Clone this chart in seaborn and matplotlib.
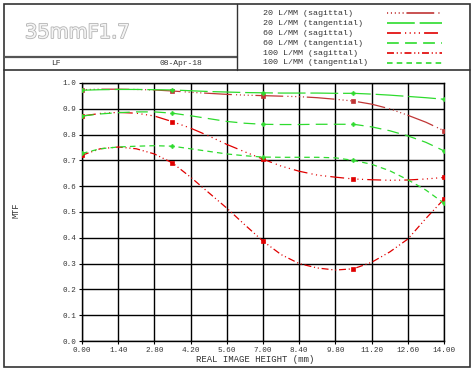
import matplotlib
matplotlib.use("Agg")
import matplotlib.pyplot as plt
import matplotlib.patheffects as pe
from matplotlib.lines import Line2D
from matplotlib.patches import Rectangle
import numpy as np
import pandas as pd
import seaborn as sns

# ---------------- data ----------------
image_height = [0.0, 0.7, 1.4, 2.1, 2.8, 3.5, 4.2, 4.9, 5.6, 6.3, 7.0,
                7.7, 8.4, 9.1, 9.8, 10.5, 11.2, 11.9, 12.6, 13.3, 14.0]

mtf_20_sag = [0.974, 0.976, 0.976, 0.975, 0.973, 0.969, 0.964, 0.960, 0.956, 0.953, 0.951,
              0.949, 0.947, 0.943, 0.937, 0.930, 0.918, 0.900, 0.875, 0.848, 0.815]
mtf_20_tan = [0.972, 0.974, 0.975, 0.975, 0.974, 0.973, 0.970, 0.967, 0.965, 0.963, 0.962,
              0.961, 0.961, 0.961, 0.960, 0.960, 0.957, 0.953, 0.948, 0.943, 0.937]
mtf_60_sag = [0.872, 0.882, 0.886, 0.883, 0.872, 0.850, 0.825, 0.795, 0.762, 0.733, 0.705,
              0.678, 0.658, 0.643, 0.635, 0.628, 0.625, 0.623, 0.624, 0.628, 0.634]
mtf_60_tan = [0.872, 0.880, 0.885, 0.888, 0.888, 0.883, 0.873, 0.862, 0.851, 0.844, 0.840,
              0.839, 0.839, 0.840, 0.840, 0.840, 0.830, 0.815, 0.795, 0.770, 0.737]
mtf_100_sag = [0.720, 0.745, 0.752, 0.745, 0.725, 0.690, 0.635, 0.575, 0.515, 0.450, 0.387,
               0.335, 0.300, 0.283, 0.275, 0.280, 0.305, 0.345, 0.395, 0.475, 0.550]
mtf_100_tan = [0.727, 0.745, 0.752, 0.755, 0.757, 0.755, 0.745, 0.735, 0.725, 0.718, 0.713,
               0.712, 0.712, 0.712, 0.710, 0.700, 0.685, 0.660, 0.625, 0.585, 0.534]

series_labels = ["20 L/MM (sagittal)", "20 L/MM (tangential)", "60 L/MM (sagittal)",
                 "60 L/MM (tangential)", "100 L/MM (sagittal)", "100 L/MM (tangential)"]
series_values = [mtf_20_sag, mtf_20_tan, mtf_60_sag, mtf_60_tan, mtf_100_sag, mtf_100_tan]

x_ticks = [0.00, 1.40, 2.80, 4.20, 5.60, 7.00, 8.40, 9.80, 11.20, 12.60, 14.00]
y_ticks = [0.0, 0.1, 0.2, 0.3, 0.4, 0.5, 0.6, 0.7, 0.8, 0.9, 1.0]

title_text = "35mmF1.7"
sub_left = "LF"
sub_date = "08-Apr-18"

# ---------------- styles ----------------
RED = "#e00000"
RED2 = "#c03535"
GREEN = "#2edb2e"
colors = [RED2, GREEN, RED, GREEN, RED, GREEN]
dashes = [
    (0, (0.8, 2, 0.8, 2, 0.8, 2, 0.8, 2, 0.8, 2, 20, 3)),
    (0, (20, 3.5)),
    (0, (10, 3, 0.8, 2.5, 0.8, 2.5, 0.8, 2.5, 0.8, 3)),
    (0, (8.5, 4.5)),
    (0, (5, 2, 0.8, 2, 0.8, 2)),
    (0, (4, 3)),
]
markers = ["s", "P", "s", "P", "s", "P"]

sns.set_style("white")
plt.rcParams["lines.scale_dashes"] = False
plt.rcParams["font.family"] = ["Liberation Mono", "DejaVu Sans Mono"]

W, H = 475, 372
fig = plt.figure(figsize=(W / 100, H / 100), dpi=100)
fig.patch.set_facecolor("white")


def fx(px):
    return px / W


def fy(py):
    return 1 - py / H


ax = fig.add_axes([fx(82), fy(341), (444 - 82) / W, (341 - 83) / H])

df = pd.DataFrame({
    "x": np.tile(image_height, len(series_labels)),
    "mtf": np.concatenate(series_values),
    "series": np.repeat(series_labels, len(image_height)),
})

mark_idx = [0, 5, 10, 15, 20]
for lab, col, ds, mk in zip(series_labels, colors, dashes, markers):
    sub = df[df["series"] == lab]
    sns.lineplot(data=sub, x="x", y="mtf", ax=ax, color=col, linewidth=0.9,
                 linestyle=ds, marker=mk, markevery=mark_idx, markersize=2.7,
                 markeredgewidth=0.5, markerfacecolor=col, markeredgecolor=col,
                 legend=False, zorder=3)

ax.set_xlim(0, 14)
ax.set_ylim(0, 1)
ax.set_xticks(x_ticks)
ax.set_xticklabels([f"{v:.2f}" for v in x_ticks])
ax.set_yticks(y_ticks)
ax.set_yticklabels([f"{v:.1f}" for v in y_ticks])
ax.tick_params(axis="both", labelsize=5.5, length=2.5, width=0.8, direction="out",
               pad=1.5, colors="black", labelcolor="#333333")
ax.tick_params(left=True, bottom=True)
ax.grid(True, color="black", linewidth=1.0)
ax.set_axisbelow(True)
for s in ax.spines.values():
    s.set_color("black")
    s.set_linewidth(1.0)
ax.set_xlabel("")
ax.set_ylabel("")

fig.text(fx(255), fy(359), "REAL IMAGE HEIGHT (mm)", fontsize=6.5, ha="center",
         va="center", color="#333333")
fig.text(fx(16), fy(210), "MTF", fontsize=6.2, ha="center", va="center",
         rotation=90, color="#333333")

# ---------------- header frame ----------------
fig.add_artist(Rectangle((fx(4), fy(367)), (470 - 4) / W, (367 - 4) / H,
                         transform=fig.transFigure, fill=False,
                         edgecolor="#333333", linewidth=1.2))
fig.add_artist(Line2D([fx(4), fx(237)], [fy(57), fy(57)], transform=fig.transFigure,
                      color="#555555", linewidth=1.6))
fig.add_artist(Line2D([fx(4), fx(470)], [fy(70), fy(70)], transform=fig.transFigure,
                      color="#333333", linewidth=1.2))
fig.add_artist(Line2D([fx(237), fx(237)], [fy(4), fy(70)], transform=fig.transFigure,
                      color="#333333", linewidth=1.0))

fig.text(fx(25), fy(38), title_text, fontsize=14, family="DejaVu Sans",
         color="#f4f4f4", ha="left", va="baseline",
         path_effects=[pe.Stroke(linewidth=1.2, foreground="#b4b4b4"), pe.Normal()])
fig.text(fx(56), fy(63.5), sub_left, fontsize=5.8, ha="center", va="center", color="#333333")
fig.text(fx(181), fy(63.5), sub_date, fontsize=5.8, ha="center", va="center", color="#333333")

# ---------------- legend ----------------
leg_y = [13.3, 23.3, 33.3, 43.3, 53.3, 62.7]
for lab, col, ds, yy in zip(series_labels, colors, dashes, leg_y):
    fig.text(fx(263), fy(yy), lab, fontsize=6, ha="left", va="center", color="#333333")
    fig.add_artist(Line2D([fx(387), fx(442)], [fy(yy), fy(yy)], transform=fig.transFigure,
                          color=col, linewidth=1.2, linestyle=ds))

fig.savefig("out.png", dpi=100, facecolor="white")
